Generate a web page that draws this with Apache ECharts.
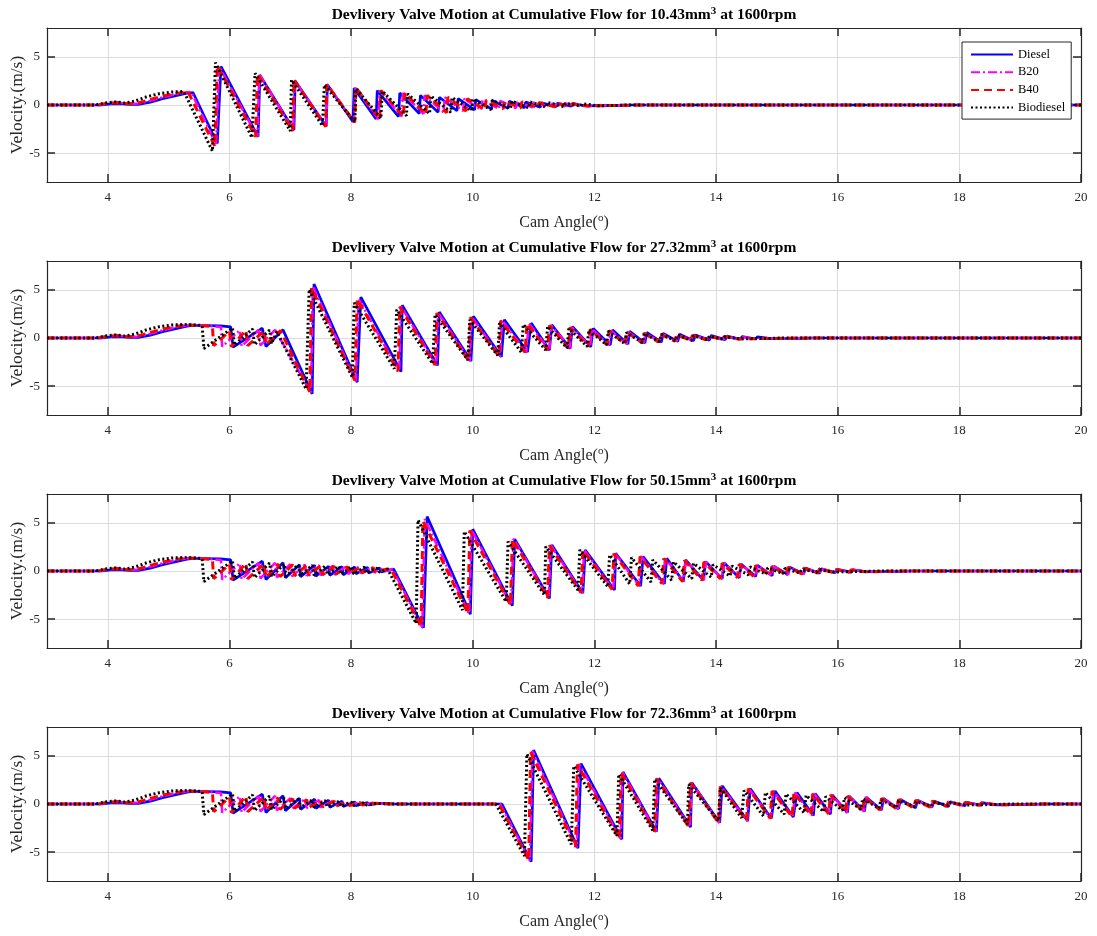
<!DOCTYPE html>
<html>
<head>
<meta charset="utf-8">
<script src="https://cdn.jsdelivr.net/npm/echarts@6/dist/echarts.min.js"></script>
<style>
html, body { margin: 0; padding: 0; background: #ffffff; }
#chart { width: 1097px; height: 936px; }
</style>
</head>
<body>
<div id="chart"></div>
<script>
// Delivery valve velocity vs cam angle, four injected quantities, four fuels.

const fuels = ['Diesel', 'B20', 'B40', 'Biodiesel'];
const flows = ['10.43', '27.32', '50.15', '72.36'];
const xTicks = [4, 6, 8, 10, 12, 14, 16, 18, 20];
const yTicks = [-5, 0, 5];

// Opening lift: identical for every flow rate
const riseDiesel = [[3,0],[3.9,0],[4.05,0.12],[4.2,0.15],[4.35,0.05],[4.5,0.06],[4.7,0.3],[4.9,0.65],[5.1,0.95],[5.3,1.22],[5.4,1.3]];
const riseB20 = [[3,0],[3.85,0],[4.03,0.18],[4.2,0.22],[4.35,0.1],[4.5,0.16],[4.7,0.45],[4.9,0.8],[5.1,1.1],[5.3,1.33],[5.37,1.35]];
const riseB40 = [[3,0],[3.85,0],[4.0,0.2],[4.18,0.25],[4.33,0.12],[4.5,0.22],[4.7,0.58],[4.9,0.92],[5.1,1.2],[5.32,1.35]];
const riseBio = [[3,0],[3.8,0],[3.95,0.2],[4.12,0.32],[4.28,0.2],[4.45,0.42],[4.65,0.88],[4.85,1.18],[5.05,1.35],[5.25,1.4]];

// First small rebounds (27.32, 50.15 and 72.36 mm3)
const earlyDiesel = [[5.6,1.3],[5.85,1.25],[6.02,1.15],[6.06,-0.95],[6.54,1.02],[6.6,-0.88],[6.88,0.85]];
const earlyB20 = [[5.6,1.3],[5.86,1.15],[5.88,-0.9],[6.17,0.8],[6.2,-0.85],[6.48,0.85],[6.51,-0.78],[6.75,0.85]];
const earlyB40 = [[5.5,1.3],[5.72,1.2],[5.74,-0.8],[6.0,0.7],[6.03,-0.9],[6.27,0.8],[6.3,-0.8],[6.57,0.75],[6.6,-0.68]];
const earlyBio = [[5.45,1.35],[5.55,1.3],[5.58,-1.1],[6.05,1.05],[6.08,-0.75],[6.38,0.95],[6.41,-0.7],[6.66,0.82],[6.69,-0.6]];

// 10.43 mm3
const f1Diesel = [[5.8,-4.0],[5.86,4.0],[6.47,-3.3],[6.5,3.1],[7.06,-2.6],[7.08,2.5],[7.59,-2.2],[7.61,2.1],[8.03,-1.75],[8.05,1.75],[8.41,-1.45],[8.43,1.5],[8.78,-1.2],[8.8,1.25],[9.12,-0.9],[9.14,1.0],[9.43,-0.75],[9.45,0.8],[9.74,-0.6],[9.76,0.65],[10.03,-0.5],[10.05,0.55],[10.31,-0.42],[10.33,0.45],[10.58,-0.35],[10.6,0.38],[10.85,-0.28],[10.87,0.3],[11.11,-0.22],[11.13,0.24],[11.37,-0.17],[11.39,0.18],[11.62,-0.13],[11.64,0.14],[11.87,-0.1],[11.89,0.1],[12.12,-0.07],[12.14,0.07],[12.37,-0.05],[12.39,0.05],[12.62,0],[20,0]];
const f1B20 = [[5.78,-4.1],[5.83,4.0],[6.46,-3.3],[6.49,3.2],[7.05,-2.6],[7.07,2.55],[7.59,-2.2],[7.61,2.1],[8.05,-1.78],[8.07,1.78],[8.45,-1.48],[8.47,1.5],[8.83,-1.2],[8.85,1.25],[9.19,-0.92],[9.21,1.0],[9.52,-0.76],[9.54,0.8],[9.84,-0.62],[9.86,0.64],[10.14,-0.5],[10.16,0.52],[10.43,-0.4],[10.45,0.42],[10.71,-0.32],[10.73,0.33],[10.98,-0.25],[11.0,0.26],[11.25,-0.19],[11.27,0.2],[11.51,-0.14],[11.53,0.15],[11.77,-0.1],[11.79,0.1],[12.03,-0.07],[12.05,0.07],[12.29,-0.04],[12.31,0.04],[12.5,0],[20,0]];
const f1B40 = [[5.76,-4.3],[5.8,4.1],[6.43,-3.3],[6.46,3.2],[7.04,-2.7],[7.06,2.6],[7.58,-2.25],[7.6,2.15],[8.06,-1.8],[8.08,1.8],[8.47,-1.5],[8.49,1.5],[8.86,-1.2],[8.88,1.25],[9.23,-0.95],[9.25,1.0],[9.57,-0.78],[9.59,0.8],[9.89,-0.62],[9.91,0.65],[10.2,-0.5],[10.22,0.52],[10.5,-0.4],[10.52,0.42],[10.79,-0.32],[10.81,0.33],[11.07,-0.25],[11.09,0.26],[11.35,-0.19],[11.37,0.2],[11.62,-0.14],[11.64,0.15],[11.89,-0.1],[11.91,0.1],[12.16,-0.07],[12.18,0.07],[12.43,-0.04],[12.45,0.04],[12.65,0],[20,0]];
const f1Bio = [[5.72,-4.8],[5.77,4.4],[6.37,-3.4],[6.42,3.3],[7.0,-2.7],[7.02,2.6],[7.53,-2.15],[7.56,2.1],[8.06,-1.75],[8.08,1.7],[8.49,-1.4],[8.51,1.45],[8.91,-1.1],[8.93,1.15],[9.29,-0.9],[9.31,0.95],[9.64,-0.75],[9.66,0.78],[9.98,-0.6],[10.0,0.62],[10.3,-0.48],[10.32,0.5],[10.62,-0.38],[10.64,0.4],[10.92,-0.3],[10.94,0.32],[11.21,-0.23],[11.23,0.25],[11.5,-0.17],[11.52,0.18],[11.78,-0.12],[11.8,0.13],[12.06,-0.08],[12.08,0.09],[12.34,-0.05],[12.36,0.05],[12.55,0],[20,0]];

// 27.32 mm3
const f2Diesel = [[7.36,-5.8],[7.39,5.6],[8.1,-4.6],[8.16,4.25],[8.82,-3.5],[8.84,3.4],[9.42,-2.85],[9.45,2.7],[9.97,-2.4],[10.01,2.25],[10.47,-1.95],[10.52,1.9],[10.9,-1.45],[10.96,1.55],[11.26,-1.26],[11.3,1.37],[11.6,-1.1],[11.64,1.19],[11.94,-0.92],[11.98,1.0],[12.26,-0.74],[12.3,0.84],[12.55,-0.62],[12.58,0.7],[12.83,-0.52],[12.86,0.58],[13.1,-0.43],[13.13,0.48],[13.37,-0.35],[13.4,0.4],[13.63,-0.28],[13.66,0.32],[13.89,-0.22],[13.92,0.25],[14.15,-0.17],[14.18,0.2],[14.4,-0.13],[14.43,0.15],[14.65,-0.1],[14.68,0.11],[14.9,-0.07],[14.93,0.08],[15.15,-0.05],[15.18,0.05],[15.4,-0.03],[15.43,0.03],[15.6,0],[20,0]];
const f2B20 = [[7.34,-5.7],[7.37,5.35],[8.08,-4.5],[8.12,4.1],[8.79,-3.5],[8.82,3.3],[9.4,-2.82],[9.43,2.65],[9.95,-2.38],[9.98,2.2],[10.45,-1.92],[10.48,1.85],[10.88,-1.5],[10.92,1.52],[11.26,-1.25],[11.29,1.3],[11.6,-1.05],[11.63,1.1],[11.93,-0.88],[11.96,0.92],[12.24,-0.72],[12.27,0.76],[12.53,-0.6],[12.56,0.63],[12.81,-0.5],[12.84,0.52],[13.08,-0.41],[13.11,0.42],[13.35,-0.33],[13.38,0.34],[13.61,-0.26],[13.64,0.27],[13.87,-0.2],[13.9,0.21],[14.13,-0.15],[14.16,0.16],[14.39,-0.11],[14.42,0.11],[14.65,-0.08],[14.68,0.08],[14.91,-0.05],[14.94,0.05],[15.17,-0.03],[15.2,0.03],[15.4,0],[20,0]];
const f2B40 = [[6.84,0.78],[7.32,-5.6],[7.35,5.2],[8.06,-4.4],[8.1,4.05],[8.77,-3.45],[8.8,3.25],[9.38,-2.8],[9.41,2.6],[9.93,-2.35],[9.96,2.15],[10.43,-1.9],[10.46,1.8],[10.86,-1.5],[10.89,1.5],[11.23,-1.25],[11.26,1.3],[11.57,-1.05],[11.6,1.1],[11.9,-0.88],[11.93,0.9],[12.21,-0.72],[12.24,0.75],[12.5,-0.6],[12.53,0.62],[12.78,-0.5],[12.81,0.5],[13.05,-0.4],[13.08,0.41],[13.32,-0.32],[13.35,0.33],[13.58,-0.25],[13.61,0.26],[13.84,-0.19],[13.87,0.2],[14.1,-0.14],[14.13,0.15],[14.36,-0.1],[14.39,0.1],[14.62,-0.07],[14.65,0.07],[14.88,-0.05],[14.91,0.05],[15.14,-0.03],[15.17,0.03],[15.35,0],[20,0]];
const f2Bio = [[6.78,0.65],[7.26,-5.3],[7.31,5.05],[8.02,-4.07],[8.05,3.65],[8.71,-3.2],[8.75,2.95],[9.34,-2.66],[9.38,2.42],[9.92,-2.3],[9.95,1.9],[10.41,-1.8],[10.44,1.55],[10.8,-1.5],[10.83,1.4],[11.2,-1.25],[11.23,1.2],[11.55,-1.05],[11.58,1.0],[11.88,-0.88],[11.91,0.85],[12.2,-0.72],[12.23,0.7],[12.5,-0.6],[12.53,0.58],[12.79,-0.48],[12.82,0.47],[13.07,-0.38],[13.1,0.38],[13.34,-0.3],[13.37,0.3],[13.6,-0.24],[13.63,0.24],[13.86,-0.18],[13.89,0.18],[14.12,-0.13],[14.15,0.13],[14.38,-0.09],[14.41,0.09],[14.64,-0.06],[14.67,0.06],[14.9,-0.04],[14.93,0.04],[15.1,0],[20,0]];

// 50.15 mm3
const f3Diesel = [[6.92,-0.7],[7.15,0.65],[7.17,-0.6],[7.4,0.6],[7.42,-0.55],[7.63,0.5],[7.65,-0.45],[7.85,0.45],[7.87,-0.4],[8.06,0.42],[8.08,-0.3],[8.27,0.38],[8.29,-0.22],[8.47,0.32],[8.49,-0.1],[8.7,0.2],[9.19,-5.9],[9.25,5.65],[9.96,-4.48],[10.0,4.34],[10.65,-3.6],[10.69,3.3],[11.26,-2.85],[11.3,2.7],[11.81,-2.3],[11.85,2.19],[12.33,-1.98],[12.35,1.84],[12.76,-1.56],[12.8,1.49],[13.15,-1.35],[13.19,1.32],[13.46,-1.1],[13.5,1.15],[13.79,-0.94],[13.83,0.97],[14.1,-0.82],[14.13,0.85],[14.38,-0.7],[14.41,0.72],[14.65,-0.58],[14.68,0.6],[14.92,-0.48],[14.95,0.5],[15.18,-0.38],[15.21,0.4],[15.44,-0.3],[15.47,0.31],[15.7,-0.23],[15.73,0.24],[15.96,-0.17],[15.99,0.18],[16.22,-0.12],[16.25,0.12],[16.48,-0.08],[16.51,0.08],[16.74,-0.05],[16.77,0.05],[17.0,-0.03],[17.03,0.03],[17.2,0],[20,0]];
const f3B20 = [[6.78,-0.65],[7.0,0.7],[7.03,-0.55],[7.24,0.65],[7.27,-0.5],[7.47,0.6],[7.5,-0.45],[7.7,0.55],[7.73,-0.38],[7.92,0.5],[7.95,-0.3],[8.13,0.45],[8.16,-0.22],[8.34,0.38],[8.37,-0.12],[8.55,0.3],[8.58,0.02],[8.68,0.2],[9.17,-5.85],[9.21,5.4],[9.94,-4.45],[9.98,4.3],[10.63,-3.55],[10.67,3.35],[11.25,-2.85],[11.28,2.7],[11.8,-2.3],[11.83,2.2],[12.31,-1.95],[12.34,1.82],[12.74,-1.56],[12.77,1.5],[13.13,-1.33],[13.16,1.32],[13.47,-1.1],[13.5,1.12],[13.8,-0.95],[13.83,0.96],[14.1,-0.82],[14.13,0.83],[14.38,-0.69],[14.41,0.7],[14.65,-0.57],[14.68,0.58],[14.92,-0.47],[14.95,0.48],[15.18,-0.38],[15.21,0.39],[15.44,-0.3],[15.47,0.3],[15.7,-0.23],[15.73,0.23],[15.96,-0.17],[15.99,0.17],[16.22,-0.12],[16.25,0.12],[16.48,-0.08],[16.51,0.08],[16.74,-0.05],[16.77,0.05],[17.0,-0.03],[17.03,0.03],[17.2,0],[20,0]];
const f3B40 = [[6.8,0.72],[6.83,-0.6],[7.04,0.65],[7.07,-0.5],[7.27,0.6],[7.3,-0.45],[7.5,0.55],[7.53,-0.4],[7.72,0.5],[7.75,-0.35],[7.94,0.45],[7.97,-0.3],[8.15,0.4],[8.18,-0.2],[8.36,0.35],[8.39,-0.1],[8.6,0.2],[8.66,0.15],[9.15,-5.8],[9.18,5.2],[9.92,-4.4],[9.95,4.2],[10.62,-3.5],[10.65,3.3],[11.23,-2.8],[11.26,2.65],[11.78,-2.25],[11.81,2.15],[12.29,-1.9],[12.32,1.8],[12.72,-1.55],[12.75,1.5],[13.11,-1.3],[13.14,1.3],[13.45,-1.1],[13.48,1.1],[13.77,-0.95],[13.8,0.95],[14.07,-0.8],[14.1,0.82],[14.35,-0.68],[14.38,0.7],[14.62,-0.57],[14.65,0.58],[14.89,-0.47],[14.92,0.48],[15.15,-0.38],[15.18,0.39],[15.41,-0.3],[15.44,0.3],[15.67,-0.23],[15.7,0.23],[15.93,-0.17],[15.96,0.17],[16.19,-0.12],[16.22,0.12],[16.45,-0.08],[16.48,0.08],[16.71,-0.05],[16.74,0.05],[16.95,0],[20,0]];
const f3Bio = [[6.9,0.72],[6.93,-0.55],[7.13,0.65],[7.16,-0.5],[7.36,0.6],[7.39,-0.45],[7.58,0.55],[7.61,-0.4],[7.8,0.5],[7.83,-0.35],[8.01,0.45],[8.04,-0.3],[8.22,0.4],[8.25,-0.2],[8.43,0.3],[8.46,-0.1],[8.6,0.2],[9.07,-5.45],[9.1,5.3],[9.83,-4.06],[9.86,4.1],[10.55,-3.2],[10.58,3.05],[11.18,-2.5],[11.2,2.53],[11.73,-1.98],[11.76,2.19],[12.22,-1.63],[12.25,1.67],[12.58,-1.35],[12.61,1.4],[12.93,-1.15],[12.96,1.15],[13.27,-0.95],[13.3,0.95],[13.6,-0.8],[13.63,0.8],[13.92,-0.65],[13.95,0.65],[14.23,-0.52],[14.26,0.52],[14.53,-0.42],[14.56,0.42],[14.82,-0.33],[14.85,0.33],[15.1,-0.26],[15.13,0.26],[15.38,-0.2],[15.41,0.2],[15.65,-0.15],[15.68,0.15],[15.92,-0.1],[15.95,0.1],[16.19,-0.07],[16.22,0.07],[16.46,-0.04],[16.49,0.04],[16.7,0],[20,0]];

// 72.36 mm3
const f4Diesel = [[6.92,-0.7],[7.15,0.6],[7.17,-0.55],[7.4,0.5],[7.42,-0.45],[7.63,0.4],[7.65,-0.35],[7.85,0.3],[7.87,-0.25],[8.06,0.22],[8.08,-0.18],[8.27,0.15],[8.29,-0.1],[8.47,0.08],[8.49,-0.05],[8.7,0.02],[8.8,0],[10.48,0],[10.96,-6.0],[11.0,5.6],[11.73,-4.6],[11.78,4.2],[12.45,-3.67],[12.47,3.33],[13.02,-2.88],[13.06,2.68],[13.58,-2.4],[13.6,2.22],[14.06,-1.95],[14.1,1.88],[14.52,-1.77],[14.56,1.6],[14.91,-1.5],[14.97,1.35],[15.27,-1.35],[15.33,1.18],[15.6,-1.2],[15.63,1.08],[15.88,-1.05],[15.91,0.95],[16.16,-0.9],[16.19,0.82],[16.44,-0.75],[16.47,0.7],[16.72,-0.62],[16.75,0.58],[17.0,-0.5],[17.03,0.47],[17.28,-0.4],[17.31,0.38],[17.55,-0.32],[17.58,0.3],[17.82,-0.25],[17.85,0.23],[18.09,-0.18],[18.12,0.17],[18.36,-0.13],[18.39,0.12],[18.63,-0.09],[18.66,0.08],[18.9,-0.06],[18.93,0.05],[19.17,-0.03],[19.2,0.03],[19.4,0],[20,0]];
const f4B20 = [[6.78,-0.65],[7.0,0.6],[7.03,-0.5],[7.24,0.5],[7.27,-0.42],[7.47,0.42],[7.5,-0.35],[7.7,0.33],[7.73,-0.27],[7.92,0.25],[7.95,-0.2],[8.13,0.18],[8.16,-0.13],[8.34,0.1],[8.37,-0.07],[8.55,0.04],[8.7,0],[10.45,0],[10.94,-5.9],[10.98,5.5],[11.71,-4.5],[11.75,4.15],[12.43,-3.6],[12.46,3.3],[13.01,-2.87],[13.04,2.66],[13.57,-2.38],[13.6,2.2],[14.05,-1.95],[14.08,1.87],[14.51,-1.75],[14.54,1.6],[14.9,-1.5],[14.94,1.35],[15.26,-1.34],[15.3,1.19],[15.58,-1.19],[15.61,1.08],[15.87,-1.04],[15.9,0.95],[16.15,-0.89],[16.18,0.82],[16.43,-0.75],[16.46,0.7],[16.71,-0.62],[16.74,0.58],[16.99,-0.5],[17.02,0.47],[17.27,-0.4],[17.3,0.38],[17.54,-0.32],[17.57,0.3],[17.81,-0.25],[17.84,0.23],[18.08,-0.18],[18.11,0.17],[18.35,-0.13],[18.38,0.12],[18.62,-0.09],[18.65,0.08],[18.89,-0.06],[18.92,0.05],[19.16,-0.03],[19.19,0.03],[19.4,0],[20,0]];
const f4B40 = [[6.8,0.65],[6.83,-0.55],[7.04,0.55],[7.07,-0.45],[7.27,0.45],[7.3,-0.38],[7.5,0.37],[7.53,-0.3],[7.72,0.3],[7.75,-0.24],[7.94,0.22],[7.97,-0.17],[8.15,0.15],[8.18,-0.1],[8.36,0.08],[8.39,-0.05],[8.6,0],[10.43,0],[10.92,-5.8],[10.95,5.4],[11.69,-4.45],[11.72,4.1],[12.41,-3.55],[12.44,3.25],[12.99,-2.85],[13.02,2.65],[13.55,-2.35],[13.58,2.2],[14.04,-1.95],[14.07,1.85],[14.5,-1.72],[14.53,1.6],[14.89,-1.48],[14.92,1.35],[15.25,-1.32],[15.28,1.2],[15.56,-1.18],[15.59,1.08],[15.85,-1.03],[15.88,0.95],[16.13,-0.88],[16.16,0.82],[16.41,-0.74],[16.44,0.7],[16.69,-0.61],[16.72,0.58],[16.97,-0.5],[17.0,0.47],[17.25,-0.4],[17.28,0.38],[17.52,-0.32],[17.55,0.3],[17.79,-0.25],[17.82,0.23],[18.06,-0.18],[18.09,0.17],[18.33,-0.13],[18.36,0.12],[18.6,-0.09],[18.63,0.08],[18.87,-0.06],[18.9,0.05],[19.14,-0.03],[19.17,0.03],[19.35,0],[20,0]];
const f4Bio = [[6.9,0.62],[6.93,-0.5],[7.13,0.52],[7.16,-0.42],[7.36,0.43],[7.39,-0.35],[7.58,0.35],[7.61,-0.28],[7.8,0.27],[7.83,-0.22],[8.01,0.2],[8.04,-0.16],[8.22,0.14],[8.25,-0.1],[8.43,0.07],[8.46,-0.04],[8.65,0],[10.38,0],[10.85,-5.4],[10.89,5.2],[11.62,-4.2],[11.66,3.95],[12.37,-3.33],[12.4,3.1],[12.96,-2.74],[12.99,2.57],[13.53,-2.1],[13.55,2.05],[14.04,-1.77],[14.07,1.7],[14.42,-1.45],[14.46,1.4],[14.78,-1.25],[14.81,1.2],[15.12,-1.08],[15.15,1.05],[15.45,-0.93],[15.48,0.9],[15.77,-0.8],[15.8,0.77],[16.08,-0.67],[16.11,0.65],[16.38,-0.55],[16.41,0.54],[16.68,-0.45],[16.71,0.44],[16.97,-0.36],[17.0,0.35],[17.26,-0.28],[17.29,0.27],[17.54,-0.21],[17.57,0.2],[17.82,-0.15],[17.85,0.15],[18.1,-0.1],[18.13,0.1],[18.38,-0.07],[18.41,0.06],[18.66,-0.04],[18.69,0.04],[18.9,0],[20,0]];

// Full traces per panel, in fuel order
const panels = [
  [riseDiesel.concat(f1Diesel), riseB20.concat(f1B20), riseB40.concat(f1B40), riseBio.concat(f1Bio)],
  [riseDiesel.concat(earlyDiesel, f2Diesel), riseB20.concat(earlyB20, f2B20), riseB40.concat(earlyB40, f2B40), riseBio.concat(earlyBio, f2Bio)],
  [riseDiesel.concat(earlyDiesel, f3Diesel), riseB20.concat(earlyB20, f3B20), riseB40.concat(earlyB40, f3B40), riseBio.concat(earlyBio, f3Bio)],
  [riseDiesel.concat(earlyDiesel, f4Diesel), riseB20.concat(earlyB20, f4B20), riseB40.concat(earlyB40, f4B40), riseBio.concat(earlyBio, f4Bio)]
];

const SERIF = 'Liberation Serif';
const INK = '#262626';
const lineStyles = [
  { color: '#0000ff', width: 2.7, type: 'solid' },
  { color: '#ff00ff', width: 2.5, type: [9, 3, 2, 3] },
  { color: '#ff0000', width: 3, type: [8, 5] },
  { color: '#000000', width: 3, type: [2, 2.5] }
];

const gridTops = [28, 261, 494, 727];
const gridHeight = 154;
const gridLeft = 47, gridRight = 16;

const grids = [], xAxes = [], yAxes = [], series = [], graphics = [];

panels.forEach((traces, i) => {
  grids.push({ left: gridLeft, right: gridRight, top: gridTops[i], height: gridHeight, outerBoundsMode: 'none', containLabel: false });

  const tick = { show: true, inside: true, length: 8, lineStyle: { color: INK, width: 1.5 } };
  const axisLine = { show: true, onZero: false, lineStyle: { color: INK, width: 1.2 } };

  xAxes.push({
    type: 'value', gridIndex: i, min: 3, max: 20, position: 'bottom',
    axisLine: axisLine,
    axisTick: Object.assign({ customValues: xTicks }, tick),
    axisLabel: { customValues: xTicks, margin: 9, fontFamily: SERIF, fontSize: 13, color: INK },
    splitLine: { show: true, lineStyle: { color: '#dcdcdc', width: 1 } },
    name: '{n|Cam Angle(}{sup|o}{n|)}', nameLocation: 'middle', nameGap: 31, nameMoveOverlap: false,
    nameTextStyle: {
      fontFamily: SERIF, fontSize: 16, color: INK,
      rich: {
        n: { fontFamily: SERIF, fontSize: 16, color: INK, lineHeight: 20 },
        sup: { fontFamily: SERIF, fontSize: 11, color: INK, lineHeight: 11, verticalAlign: 'top' }
      }
    }
  });
  xAxes.push({
    type: 'value', gridIndex: i, min: 3, max: 20, position: 'top',
    axisLine: axisLine,
    axisTick: Object.assign({ customValues: xTicks }, tick),
    axisLabel: { show: false }, splitLine: { show: false }
  });
  yAxes.push({
    type: 'value', gridIndex: i, min: -8, max: 8, position: 'left',
    axisLine: axisLine,
    axisTick: Object.assign({ customValues: yTicks }, tick),
    axisLabel: { customValues: yTicks, margin: 7, fontFamily: SERIF, fontSize: 13, color: INK },
    splitLine: { show: true, lineStyle: { color: '#dcdcdc', width: 1 } },
    name: 'Velocity.(m/s)', nameLocation: 'middle', nameGap: 21, nameRotate: 90, nameMoveOverlap: false,
    nameTextStyle: { fontFamily: SERIF, fontSize: 17.5, color: INK }
  });
  yAxes.push({
    type: 'value', gridIndex: i, min: -8, max: 8, position: 'right',
    axisLine: axisLine,
    axisTick: Object.assign({ customValues: yTicks }, tick),
    axisLabel: { show: false }, splitLine: { show: false }
  });

  traces.forEach((pts, k) => {
    series.push({
      name: fuels[k], type: 'line', xAxisIndex: 2 * i, yAxisIndex: 2 * i,
      data: pts, showSymbol: false, symbol: 'none', clip: true,
      color: lineStyles[k].color, itemStyle: { color: lineStyles[k].color },
      lineStyle: lineStyles[k], z: 2, silent: true
    });
  });

  graphics.push({
    type: 'text', x: gridLeft + (1097 - gridLeft - gridRight) / 2, y: gridTops[i] - 13,
    style: {
      text: '{t|Devlivery Valve Motion at Cumulative Flow for ' + flows[i] + 'mm}{s|3}{t| at 1600rpm}',
      align: 'center', verticalAlign: 'middle',
      rich: {
        t: { fontFamily: SERIF, fontSize: 15.5, fontWeight: 'bold', fill: '#000', lineHeight: 19 },
        s: { fontFamily: SERIF, fontSize: 11, fontWeight: 'bold', fill: '#000', verticalAlign: 'top', lineHeight: 11 }
      }
    }
  });
});

const chart = echarts.init(document.getElementById('chart'), null, { renderer: 'canvas' });
chart.setOption({
  animation: false,
  backgroundColor: '#ffffff',
  grid: grids,
  xAxis: xAxes,
  yAxis: yAxes,
  legend: {
    data: fuels, orient: 'vertical', left: 962, top: 42, z: 20,
    padding: [6, 6, 5, 8], itemWidth: 42, itemHeight: 13, itemGap: 4.7,
    backgroundColor: '#ffffff', borderColor: INK, borderWidth: 1, borderRadius: 0,
    itemStyle: { opacity: 0, borderWidth: 0 },
    textStyle: { fontFamily: SERIF, fontSize: 12.5, color: '#000' },
    selectedMode: false
  },
  graphic: graphics,
  series: series
});
</script>
</body>
</html>
